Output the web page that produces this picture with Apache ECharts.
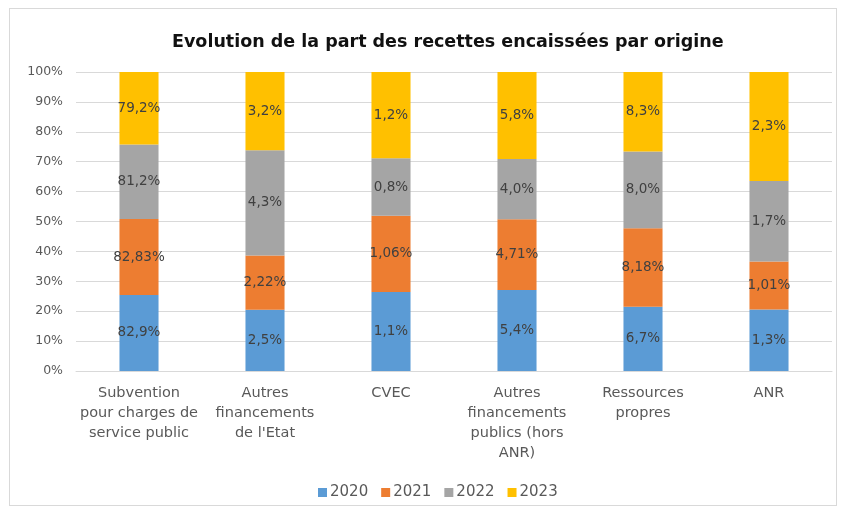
<!DOCTYPE html>
<html>
<head>
<meta charset="utf-8">
<script src="https://cdn.jsdelivr.net/npm/echarts@6/dist/echarts.min.js"></script>
<style>
  html, body { margin: 0; padding: 0; background: #fff; }
  #frame { position: absolute; left: 9px; top: 8px; width: 826px; height: 496px; border: 1px solid #d9d9d9; }
  #chart { width: 841px; height: 511px; }
</style>
</head>
<body>
<div id="frame"></div>
<div id="chart"></div>
<script>
var categories = ['Subvention\npour charges de\nservice public', 'Autres\nfinancements\nde l\'Etat', 'CVEC',
    'Autres\nfinancements\npublics (hors\nANR)', 'Ressources\npropres', 'ANR'];
var years = ['2020', '2021', '2022', '2023'];
var colors = ['#5B9BD5', '#ED7D31', '#A5A5A5', '#FFC000'];

// libellés tels qu'affichés sur le graphique
var labels2020 = ['82,9%', '2,5%', '1,1%', '5,4%', '6,7%', '1,3%'];
var labels2021 = ['82,83%', '2,22%', '1,06%', '4,71%', '8,18%', '1,01%'];
var labels2022 = ['81,2%', '4,3%', '0,8%', '4,0%', '8,0%', '1,7%'];
var labels2023 = ['79,2%', '3,2%', '1,2%', '5,8%', '8,3%', '2,3%'];
var yTicks = ['0%', '10%', '20%', '30%', '40%', '50%', '60%', '70%', '80%', '90%', '100%'];

var allLabels = [labels2020, labels2021, labels2022, labels2023];
var values = allLabels.map(function (arr) {
    return arr.map(function (s) { return parseFloat(s.replace(',', '.')); });
});

// empilement 100 %
var totals = categories.map(function (c, i) {
    var t = 0;
    for (var k = 0; k < values.length; k++) t += values[k][i];
    return t;
});

var font = 'DejaVu Sans';
var series = years.map(function (y, k) {
    return {
        name: y,
        type: 'bar',
        stack: 'total',
        barWidth: '31%',
        itemStyle: { color: colors[k] },
        label: {
            show: true,
            position: 'inside',
            color: '#404040',
            fontFamily: font,
            fontSize: 13.5,
            formatter: function (p) { return allLabels[k][p.dataIndex]; }
        },
        data: values[k].map(function (v, i) { return v / totals[i] * 100; })
    };
});

var option = {
    animation: false,
    title: {
        text: 'Evolution de la part des recettes encaissées par origine',
        left: 167,
        top: 28,
        textStyle: { fontFamily: font, fontSize: 17.5, fontWeight: 'bold', color: '#111' }
    },
    legend: {
        data: years,
        top: 480,
        left: 313,
        itemWidth: 9,
        itemHeight: 9,
        itemGap: 13,
        icon: 'rect',
        textStyle: { fontFamily: font, fontSize: 15, color: '#595959', padding: [0, 0, 0, -2] }
    },
    grid: { left: 76, right: 9, top: 72, bottom: 140 },
    xAxis: {
        type: 'category',
        data: categories,
        axisLine: { lineStyle: { color: '#d9d9d9' } },
        axisTick: { show: false },
        axisLabel: { fontFamily: font, fontSize: 14.5, color: '#595959', lineHeight: 20, margin: 12, interval: 0 }
    },
    yAxis: {
        type: 'value',
        min: 0,
        max: 100,
        interval: 10,
        axisLine: { show: false },
        axisTick: { show: false },
        splitLine: { lineStyle: { color: '#d9d9d9' } },
        axisLabel: {
            fontFamily: font, fontSize: 12.5, color: '#595959', margin: 13,
            formatter: function (v) { return yTicks[Math.round(v / 10)]; }
        }
    },
    series: series
};

var myChart = echarts.init(document.getElementById('chart'));
myChart.setOption(option);
</script>
</body>
</html>
